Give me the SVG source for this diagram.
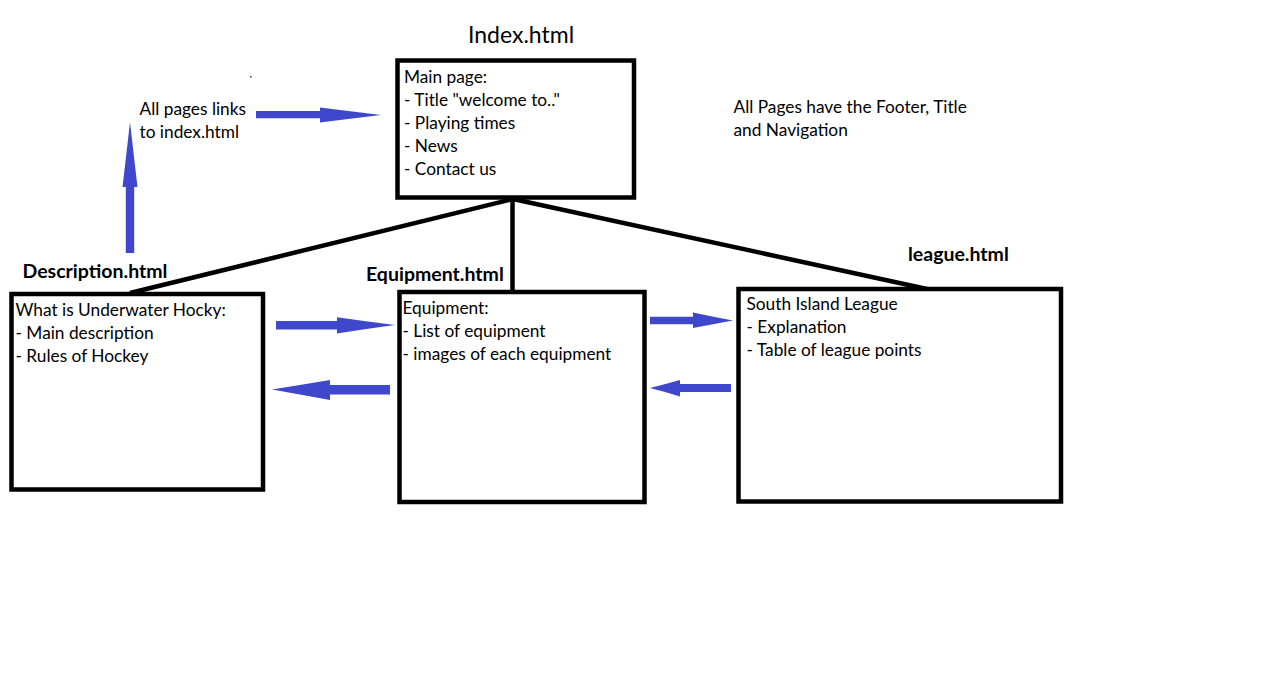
<svg xmlns="http://www.w3.org/2000/svg" width="1270" height="680" viewBox="0 0 1270 680">
<style>
  .box { fill: #ffffff; stroke: #000000; stroke-width: 4.5; }
  .conn { stroke: #000000; stroke-width: 4.5; fill: none; }
  .arrow { fill: #3f48cc; stroke: none; }
  .t { font-family: Lato, "Open Sans", sans-serif; font-size: 17.3px; fill: #000000; }
  .title { font-family: Lato, "Open Sans", sans-serif; font-size: 19.5px; font-weight: bold; fill: #000000; }
  .big { font-family: Lato, "Open Sans", sans-serif; font-size: 23px; fill: #000000; }
</style>
<rect width="1270" height="680" fill="#ffffff"/>

<g id="connectors">
  <line class="conn" x1="513" y1="199" x2="130" y2="293"/>
  <line class="conn" x1="512.5" y1="199" x2="512.5" y2="292"/>
  <line class="conn" x1="513" y1="199" x2="927" y2="289"/>
  <!-- blue arrows -->
  <path class="arrow" d="M256,111 L320,111 L320,107.5 Q352,111.5 381,115 Q352,118.5 320,122.5 L320,118.3 L256,118.3 Z"/>
  <path class="arrow" d="M125.8,253 L125.8,187 L122.5,187 Q126.5,153 130,122 Q133.5,153 137.5,187 L134.2,187 L134.2,253 Z"/>
  <path class="arrow" d="M276,321 L337,321 L337,317.2 Q367,321.5 395,325 Q367,328.7 337,333.5 L337,329.4 L276,329.4 Z"/>
  <path class="arrow" d="M390,385 L330,385 L330,380 Q300,385 272,389.5 Q300,394.5 330,400 L330,394.4 L390,394.4 Z"/>
  <path class="arrow" d="M650,316.7 L693,316.7 L693,312.5 Q714,317 733,320.5 Q714,324 693,328 L693,324.3 L650,324.3 Z"/>
  <path class="arrow" d="M731,384 L680,384 L680,380 Q664,384.5 650,388 Q664,391.5 680,396.5 L680,392 L731,392 Z"/>
</g>

<g id="index">
  <text class="big" x="468" y="43">Index.html</text>
  <rect class="box" x="397.5" y="60.5" width="236.5" height="137"/>
  <text class="t" x="404" y="83">Main page:</text>
  <text class="t" x="404" y="106">- Title "welcome to.."</text>
  <text class="t" x="404" y="129">- Playing times</text>
  <text class="t" x="404" y="152">- News</text>
  <text class="t" x="404" y="175">- Contact us</text>
</g>

<g id="description">
  <text class="title" x="22.5" y="278">Description.html</text>
  <rect class="box" x="11.5" y="294" width="251.5" height="195.5"/>
  <text class="t" x="15.5" y="316">What is Underwater Hocky:</text>
  <text class="t" x="15.5" y="339">- Main description</text>
  <text class="t" x="15.5" y="362">- Rules of Hockey</text>
</g>

<g id="equipment">
  <text class="title" x="366" y="281">Equipment.html</text>
  <rect class="box" x="399.5" y="292" width="245" height="210"/>
  <text class="t" x="402.5" y="314">Equipment:</text>
  <text class="t" x="402.5" y="337">- List of equipment</text>
  <text class="t" x="402.5" y="360">- images of each equipment</text>
</g>

<g id="league">
  <text class="title" x="908" y="261">league.html</text>
  <rect class="box" x="738.5" y="289" width="322.5" height="212.5"/>
  <text class="t" x="746.5" y="310">South Island League</text>
  <text class="t" x="746.5" y="333">- Explanation</text>
  <text class="t" x="746.5" y="356">- Table of league points</text>
</g>

<g id="notes">
  <text class="t" x="139.5" y="115">All pages links</text>
  <text class="t" x="139.5" y="138">to index.html</text>
  <text class="t" x="733.5" y="113">All Pages have the Footer, Title</text>
  <text class="t" x="733.5" y="136">and Navigation</text>
  <rect x="250" y="76" width="1.5" height="1.5" fill="#333333"/>
</g>
</svg>
